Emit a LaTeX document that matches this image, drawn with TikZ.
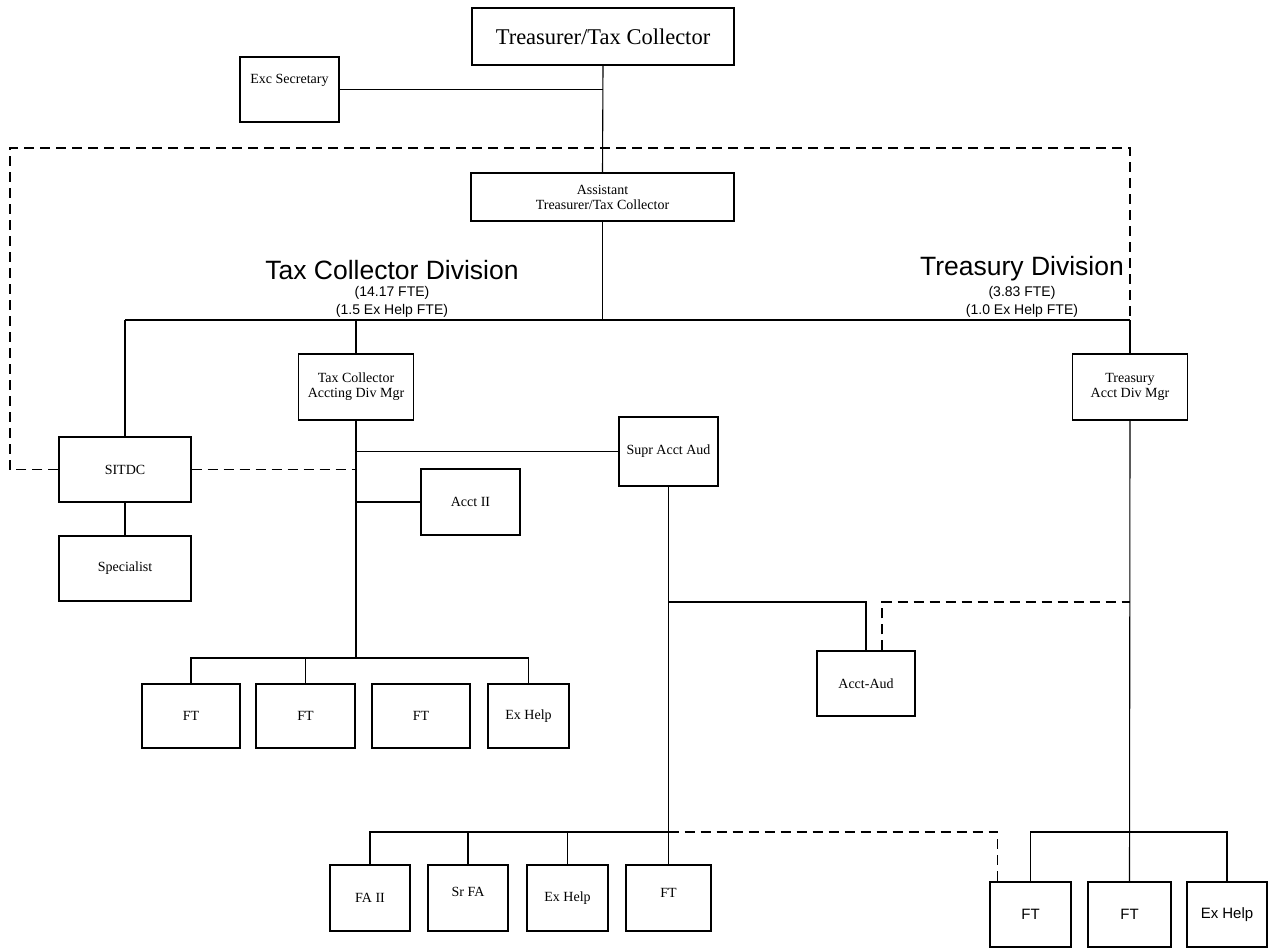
\documentclass[tikz,border=0pt]{standalone}
\usepackage{fontspec}
\setmainfont{Liberation Serif}
\newfontfamily\arial{Liberation Sans}
\usetikzlibrary{calc}
\begin{document}
\begin{tikzpicture}[x=1pt,y=-1pt,
  bfont/.style={font=\fontsize{14}{15}\selectfont},
  box/.style={draw,line width=1.1pt,inner sep=0pt,align=center,bfont},
  sbox/.style={box,font=\arial\fontsize{15}{17}\selectfont},
  conn/.style={line width=1.1pt},
  dconn/.style={line width=1.1pt,dash pattern=on 10pt off 6pt},
  bar/.style={line width=2.2pt},
  divtitle/.style={font=\arial\fontsize{26.5}{28}\selectfont,inner sep=0pt},
  divsub/.style={font=\arial\fontsize{14}{15}\selectfont,inner sep=0pt}]
\useasboundingbox (0,0) rectangle (1272,950);
\fill[white] (0,0) rectangle (1272,950);

% boxes
\node[box,minimum width=262,minimum height=57,font=\fontsize{22.5}{25}\selectfont] (tt) at (603,36.5) {Treasurer/Tax Collector};
\node[box,minimum width=99,minimum height=65,label={[yshift=9pt,bfont]center:Exc Secretary}] (exc) at (289.5,89.5) {};
\node[box,minimum width=263,minimum height=48] (asst) at (602.5,197) {Assistant\\Treasurer/Tax Collector};
\node[box,minimum width=132,minimum height=65] (sitdc) at (125,469.5) {SITDC};
\node[box,minimum width=132,minimum height=65] (spec) at (125,568.5) {Specialist};
\node[box,minimum width=115,minimum height=66] (tcm) at (356,387) {Tax Collector\\Accting Div Mgr};
\node[box,minimum width=99,minimum height=69] (supr) at (668.5,451.5) {Supr Acct Aud};
\node[box,minimum width=99,minimum height=66] (acct2) at (470.5,502) {Acct II};
\node[box,minimum width=98,minimum height=64] (ft1) at (191,716) {FT};
\node[box,minimum width=99,minimum height=64] (ft2) at (305.5,716) {FT};
\node[box,minimum width=98,minimum height=64] (ft3) at (421,716) {FT};
\node[box,minimum width=81,minimum height=64] (exh1) at (528.5,716) {Ex Help};
\node[box,minimum width=115,minimum height=66] (tam) at (1130,387) {Treasury\\Acct Div Mgr};
\node[box,minimum width=98,minimum height=65] (acctaud) at (866,683.5) {Acct-Aud};
\node[box,minimum width=80,minimum height=66] (fa2) at (370,898) {FA II};
\node[box,minimum width=80,minimum height=66,label={[yshift=6pt,bfont]center:Sr FA}] (srfa) at (468,898) {};
\node[box,minimum width=81,minimum height=66] (exh2) at (567.5,898) {Ex Help};
\node[box,minimum width=85,minimum height=66,label={[yshift=5pt,bfont]center:FT}] (ft4) at (668.5,898) {};
\node[sbox,minimum width=81,minimum height=65] (ftt1) at (1030.5,914.5) {FT};
\node[sbox,minimum width=83,minimum height=65] (ftt2) at (1129.5,914.5) {FT};
\node[sbox,minimum width=80,minimum height=65] (exh3) at (1227,914.5) {Ex Help};

% division labels
\node[divtitle] (tcdiv) at (392,270) {Tax Collector Division};
\node[divsub] (tcfte) at (392,293) {(14.17 FTE)};
\node[divsub] (tcex) at (392,311) {(1.5 Ex Help FTE)};
\node[divtitle] (trdiv) at (1022,269) {Treasury Division};
\node[divsub] (trfte) at (1022,293) {(3.83 FTE)};
\node[divsub] (trex) at (1022,311) {(1.0 Ex Help FTE)};

% coordinates
\coordinate (barL) at (125,320);
\coordinate (barR) at (1130,320);
\coordinate (dTL) at (10,148);
\coordinate (dTR) at (1130,148);
\coordinate (tcbus) at (356,658);
\coordinate (sb) at (668.5,602);
\coordinate (sbus) at (668.5,832);
\coordinate (tbus) at (1130,832);
\coordinate (adT) at ($(acctaud.north)+(16,0)$);
\coordinate (ftdT) at ($(ftt1.north west)+(8,0)$);

% top connectors
\draw[conn] (tt.south) -- (asst.north);
\draw[conn] (exc.east) -- (exc.east -| tt.south);
\draw[conn] (asst.south) -- (asst.south |- barL);
\draw[bar] (barL) -- (barR);
\draw[conn] (barL) -- (sitdc.north);
\draw[conn] (tcm.north |- barL) -- (tcm.north);
\draw[conn] (barR) -- (tam.north);
\draw[conn] (sitdc.south) -- (spec.north);

% dashed outline
\draw[dconn] (sitdc.west) -| (dTL) -- (dTR) -- (barR);
\draw[dconn] (sitdc.east) -- (sitdc.east -| tcm.south);

% tax collector branch
\draw[conn] (tcm.south) -- (tcbus);
\draw[conn] (supr.west) -- (supr.west -| tcm.south);
\draw[conn] (acct2.west) -- (acct2.west -| tcm.south);
\draw[conn] (ft1.north) |- (tcbus) -| (exh1.north);
\draw[conn] (ft2.north) -- (ft2.north |- tcbus);

% supr branch
\draw[conn] (supr.south) -- (ft4.north);
\draw[conn] (sb) -| (acctaud.north);
\draw[dconn] (adT) |- (tam.south |- sb);
\draw[conn] (fa2.north) |- (sbus);
\draw[conn] (srfa.north) -- (srfa.north |- sbus);
\draw[conn] (exh2.north) -- (exh2.north |- sbus);
\draw[dconn] (sbus) -| (ftdT);

% treasury branch
\draw[conn] (tam.south) -- (ftt2.north);
\draw[conn] (ftt1.north) |- (tbus) -| (exh3.north);
\end{tikzpicture}
\end{document}
